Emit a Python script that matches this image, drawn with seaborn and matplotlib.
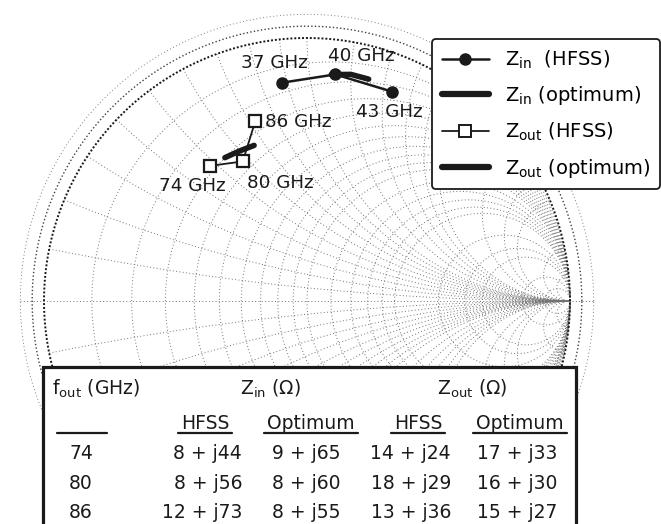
import numpy as np
import pandas as pd
import matplotlib
matplotlib.use("Agg")
import matplotlib.pyplot as plt
from matplotlib.lines import Line2D
from matplotlib.patches import Rectangle
import seaborn as sns

# ---------------- data ----------------
Z0 = 50.0                      # reference impedance (ohm)
f_in_ghz = [37, 40, 43]        # input frequencies
f_out_ghz = [74, 80, 86]       # output frequencies

zin_hfss_re = [8, 8, 12]
zin_hfss_im = [44, 56, 73]
zin_opt_re = [9, 8, 8]
zin_opt_im = [65, 60, 55]
zout_hfss_re = [14, 18, 13]
zout_hfss_im = [24, 29, 36]
zout_opt_re = [17, 16, 15]
zout_opt_im = [33, 30, 27]

# Smith chart grid values (normalised)
r_grid = [0.1, 0.2, 0.3, 0.4, 0.5, 0.6, 0.7, 0.8, 0.9, 1.0,
          1.2, 1.4, 1.6, 1.8, 2.0, 3.0, 4.0, 5.0, 10.0, 20.0]
x_grid = [0.1, 0.2, 0.3, 0.4, 0.5, 0.6, 0.7, 0.8, 0.9, 1.0,
          1.2, 1.4, 1.6, 1.8, 2.0, 3.0, 4.0, 5.0, 10.0, 20.0]

legend_labels = ["Z$_{in}$  (HFSS)", "Z$_{in}$ (optimum)",
                 "Z$_{out}$ (HFSS)", "Z$_{out}$ (optimum)"]

# ---------------- layout ----------------
W, H = 661, 524
CX, CY, R = 307.0, 301.0, 263.0   # chart centre / radius in pixels

sns.set_theme(style="white")
plt.rcParams["font.family"] = ["DejaVu Sans"]
plt.rcParams["mathtext.default"] = "regular"
plt.rcParams["text.color"] = "black"

fig = plt.figure(figsize=(W / 100, H / 100), dpi=100)
ax = fig.add_axes([0, 0, 1, 1])
ax.set_xlim(-CX / R, (W - CX) / R)
ax.set_ylim(-(H - CY) / R, CY / R)
ax.axis("off")


def gamma(re, im):
    z = (np.asarray(re, float) + 1j * np.asarray(im, float)) / Z0
    g = (z - 1) / (z + 1)
    return g.real, g.imag


def fig_xy(px, py):
    return px / W, 1 - py / H


# ---------------- Smith chart grid ----------------
grid_kw = dict(color="0.45", lw=0.7, ls=(0, (1, 2.4)), zorder=1)
th = np.linspace(0, 2 * np.pi, 720)
for r in r_grid:
    c, rad = r / (1 + r), 1 / (1 + r)
    ax.plot(c + rad * np.cos(th), rad * np.sin(th), **grid_kw)

r_run = np.concatenate([np.linspace(0, 2, 300), np.geomspace(2, 1e4, 300)])
for xv in x_grid:
    for s in (1, -1):
        g = (r_run + 1j * s * xv - 1) / (r_run + 1j * s * xv + 1)
        ax.plot(g.real, g.imag, **grid_kw)

ax.plot([-1.09, 1.09], [0, 0], **grid_kw)
ax.plot(np.cos(th), np.sin(th), color="0.1", lw=1.4, ls=(0, (1, 1)), zorder=2)
ax.plot(1.045 * np.cos(th), 1.045 * np.sin(th), color="0.25", lw=1.0,
        ls=(0, (1, 1.6)), zorder=1)
ax.plot(1.09 * np.cos(th), 1.09 * np.sin(th), color="0.5", lw=0.7,
        ls=(0, (1, 2.5)), zorder=1)


# ---------------- impedance traces ----------------
def frame(re, im, freqs):
    gr, gi = gamma(re, im)
    return pd.DataFrame({"gr": gr, "gi": gi, "f": freqs})


zin_h = frame(zin_hfss_re, zin_hfss_im, f_in_ghz)
zin_o = frame(zin_opt_re, zin_opt_im, f_out_ghz)
zout_h = frame(zout_hfss_re, zout_hfss_im, f_out_ghz)
zout_o = frame(zout_opt_re, zout_opt_im, f_out_ghz)

thick = dict(sort=False, estimator=None, color="k", lw=4.0,
             solid_capstyle="round", legend=False, ax=ax, zorder=3)
sns.lineplot(data=zin_o, x="gr", y="gi", **thick)
sns.lineplot(data=zout_o, x="gr", y="gi", **thick)

sns.lineplot(data=zin_h, x="gr", y="gi", sort=False, estimator=None,
             color="k", lw=1.8, marker="o", markersize=8,
             markerfacecolor="k", markeredgecolor="k", markeredgewidth=1,
             legend=False, ax=ax, zorder=4)
sns.lineplot(data=zout_h, x="gr", y="gi", sort=False, estimator=None,
             color="k", lw=1.3, marker="s", markersize=9,
             markerfacecolor="white", markeredgecolor="k", markeredgewidth=1.6,
             legend=False, ax=ax, zorder=4)

lbl_kw = dict(textcoords="offset pixels", fontsize=13.2, color="k",
              va="center", zorder=6)
in_offsets = [(-8, 20, "center"), (26, 18, "center"), (-3, -20, "center")]
for (gx, gy, f), (dx, dy, ha) in zip(zin_h[["gr", "gi", "f"]].values, in_offsets):
    ax.annotate(f"{int(f)} GHz", (gx, gy), xytext=(dx, dy), ha=ha, **lbl_kw)
out_offsets = [(-17, -20, "center"), (38, -22, "center"), (10, -1, "left")]
for (gx, gy, f), (dx, dy, ha) in zip(zout_h[["gr", "gi", "f"]].values, out_offsets):
    ax.annotate(f"{int(f)} GHz", (gx, gy), xytext=(dx, dy), ha=ha, **lbl_kw)

# ---------------- legend ----------------
handles = [
    Line2D([], [], color="k", lw=1.8, marker="o", markersize=8),
    Line2D([], [], color="k", lw=4.5),
    Line2D([], [], color="k", lw=1.3, marker="s", markersize=9,
           markerfacecolor="white", markeredgewidth=1.4),
    Line2D([], [], color="k", lw=4.5),
]
leg = fig.legend(handles, legend_labels, loc="upper right",
                 bbox_to_anchor=fig_xy(660, 39), borderaxespad=0,
                 fontsize=14, handlelength=2.45, handletextpad=0.8,
                 labelspacing=0.7, borderpad=0.48, frameon=True,
                 fancybox=True, framealpha=1, edgecolor="k", facecolor="white")
leg.get_frame().set_linewidth(1.3)
leg.set_zorder(7)

# ---------------- table ----------------
x0, x1, ytop = 43, 576, 367
ax.add_patch(Rectangle(fig_xy(x0, H + 30), (x1 - x0) / W, (H + 30 - ytop) / H,
                       transform=fig.transFigure, facecolor="white",
                       edgecolor="k", lw=2.3, zorder=5, clip_on=False))

tkw = dict(fontsize=13.5, color="k", zorder=6)
fig.text(*fig_xy(52, 395), "f$_{out}$ (GHz)", ha="left", va="baseline", **tkw)
fig.text(*fig_xy(270, 395), "Z$_{in}$ (\u03a9)", ha="center", va="baseline", **tkw)
fig.text(*fig_xy(472, 395), "Z$_{out}$ (\u03a9)", ha="center", va="baseline", **tkw)

sub_heads = [("HFSS", 205), ("Optimum", 311), ("HFSS", 418), ("Optimum", 520)]
head_texts = []
for s, cx in sub_heads:
    head_texts.append(fig.text(*fig_xy(cx, 429), s, ha="center",
                               va="baseline", **tkw))

row_y = [459, 489, 518]
for f, yb in zip(f_out_ghz, row_y):
    fig.text(*fig_xy(81, yb), f"{f}", ha="center", va="baseline", **tkw)

value_cols = [(zin_hfss_re, zin_hfss_im, 242), (zin_opt_re, zin_opt_im, 340),
              (zout_hfss_re, zout_hfss_im, 451), (zout_opt_re, zout_opt_im, 557)]
for re, im, xr in value_cols:
    for a, b, yb in zip(re, im, row_y):
        fig.text(*fig_xy(xr, yb), f"{a} + j{b}", ha="right", va="baseline", **tkw)

# underlines beneath the sub-headers and the blank frequency slot
fig.canvas.draw()
rend = fig.canvas.get_renderer()
ul_y = 1 - 433 / H
spans = [(57, 107)]
for t in head_texts:
    bb = t.get_window_extent(rend)
    spans.append((bb.x0 - 3, bb.x1 + 3))
for a, b in spans:
    fig.add_artist(Line2D([a / W, b / W], [ul_y, ul_y], color="k", lw=1.6,
                          transform=fig.transFigure, zorder=6))

fig.savefig("out.png", dpi=100)
